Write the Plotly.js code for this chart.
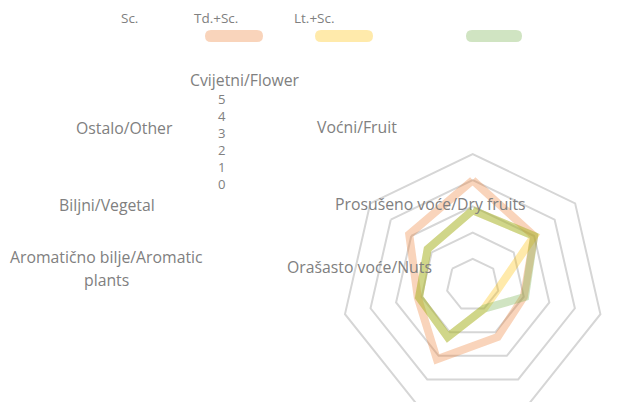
<!DOCTYPE html>
<html><head><meta charset="utf-8">
<script src="https://cdn.plot.ly/plotly-3.0.1.min.js"></script>
<style>
html,body{margin:0;padding:0;background:#fff;overflow:hidden}
#wrap{width:625px;height:402px;overflow:hidden;position:relative}
#chart{width:625px;height:420px}
</style></head>
<body><div id="wrap"><div id="chart"></div></div>
<script>
// ---- data ----
const categories = ["Cvijetni/Flower","Voćni/Fruit","Prosušeno voće/Dry fruits","Orašasto voće/Nuts","Aromatično bilje/Aromatic plants","Biljni/Vegetal","Ostalo/Other"];
const seriesNames = ["Sc.","Td.+Sc.","Lt.+Sc."];
const scValues   = [4.0, 3.0, 2.0, 2.2, 3.15, 2.15, 3.1];
const tdScValues = [2.85, 3.0, 0.95, 1.0, 2.2, 2.1, 2.2];
const ltScValues = [2.85, 3.0, 2.05, 1.0, 2.2, 2.1, 2.2];
const radialTickLabels = [5,4,3,2,1,0];

// ---- style ----
const W = 625, H = 420;
const colors = ["rgba(237,125,49,0.33)","rgba(255,192,0,0.33)","rgba(112,173,71,0.33)"];
const textColor = "#808080";
const family = "'Open Sans', Lato, sans-serif";
const catFont = {family:family, size:15.8, color:textColor};
const legFont = {family:family, size:13.5, color:textColor};
const tickFont = {family:family, size:13.1, color:textColor};
const px = x => x / W;
const py = y => (H - y) / H;

const allSeries = [scValues, tdScValues, ltScValues];
const traces = allSeries.map((vals, i) => ({
  type: "scatterpolar",
  r: vals.concat([vals[0]]),
  theta: categories.concat([categories[0]]),
  mode: "lines",
  name: seriesNames[i],
  line: {color: colors[i], width: 8},
  showlegend: false,
  hoverinfo: "skip"
}));

// ---- misplaced labels (as in reference) ----
const labelPos = [[244.5,80],[357,127],[430.5,204],[359,266.5],[106,257],[107,205],[124.5,128]];
const annotations = [];
const base = {xref:"paper", yref:"paper", xanchor:"center", yanchor:"middle", showarrow:false};
categories.forEach((c, i) => {
  if (i === 4) {
    const k = c.lastIndexOf(" ");
    annotations.push({...base, font:catFont, text: c.slice(0,k), x: px(labelPos[i][0]), y: py(labelPos[i][1])});
    annotations.push({...base, font:catFont, text: c.slice(k+1), x: px(labelPos[i][0]), y: py(labelPos[i][1] + 23)});
  } else {
    annotations.push({...base, font:catFont, text: c, x: px(labelPos[i][0]), y: py(labelPos[i][1])});
  }
});
// radial tick labels stacked as one block
annotations.push({...base, font:tickFont, text: radialTickLabels.join("<br>"), x: px(221.7), y: py(141)});
// legend texts
const legendTextPos = [[129,18.5],[216,18.5],[314,18.5]];
seriesNames.forEach((n, i) => {
  annotations.push({...base, font:legFont, text: n, x: px(legendTextPos[i][0]), y: py(legendTextPos[i][1])});
});

// legend swatches (pills)
const swatchX = [[205,263],[315,373],[466,522]];
const shapes = swatchX.map((sx, i) => {
  const x0 = sx[0], x1 = sx[1], y0 = 30, y1 = 42, r = 6, yc = 36;
  const p = `M ${px(x0+r)},${py(y0)} L ${px(x1-r)},${py(y0)} Q ${px(x1)},${py(y0)} ${px(x1)},${py(yc)} Q ${px(x1)},${py(y1)} ${px(x1-r)},${py(y1)} L ${px(x0+r)},${py(y1)} Q ${px(x0)},${py(y1)} ${px(x0)},${py(yc)} Q ${px(x0)},${py(y0)} ${px(x0+r)},${py(y0)} Z`;
  return {type:"path", xref:"paper", yref:"paper", path:p, fillcolor:colors[i], line:{width:0}};
});

const cx = 472.7, cy = 285, R = 131;
const layout = {
  width: W, height: H,
  margin: {l:0, r:0, t:0, b:0},
  paper_bgcolor: "#fff",
  showlegend: false,
  font: catFont,
  polar: {
    domain: {x: [px(cx - R), px(cx + R)], y: [py(cy + R), py(cy - R)]},
    gridshape: "linear",
    bgcolor: "#fff",
    radialaxis: {
      range: [0, 5], tickvals: [1,2,3,4,5],
      showticklabels: false, ticks: "", showline: false,
      showgrid: true, gridcolor: "#d6d6d6", gridwidth: 2, angle: 90
    },
    angularaxis: {
      type: "category", categoryarray: categories,
      direction: "clockwise", rotation: 90,
      showticklabels: false, ticks: "", showgrid: false,
      showline: true, linecolor: "#d6d6d6", linewidth: 2
    }
  },
  annotations: annotations,
  shapes: shapes
};
Plotly.newPlot("chart", traces, layout, {displayModeBar: false, staticPlot: true});
</script>
</body></html>
